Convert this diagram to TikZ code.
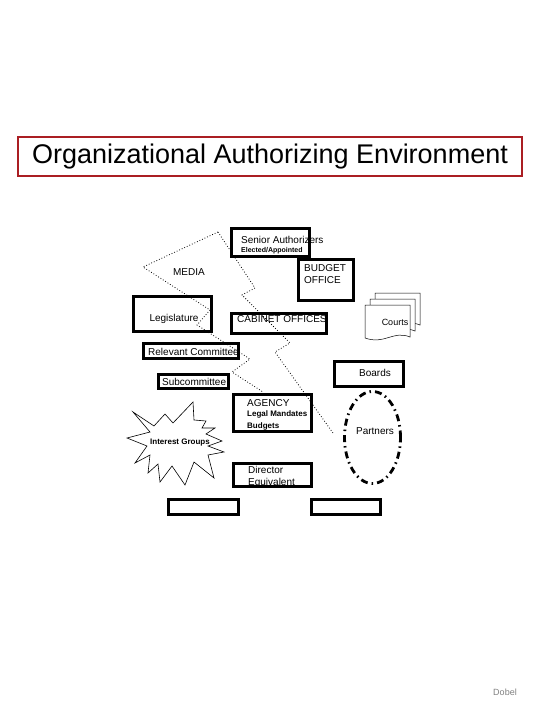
\documentclass[tikz,border=0pt]{standalone}
\usepackage{fontspec}
\setmainfont{Liberation Sans}
\usetikzlibrary{shapes.geometric}
\definecolor{framered}{RGB}{170,30,35}
\tikzstyle{box}=[draw, line width=2.8pt, inner sep=0pt]
\tikzstyle{txt}=[inner sep=0pt, font=\fontsize{10}{12}\selectfont]
\tikzstyle{note}=[inner sep=0pt, font=\fontsize{8}{10}\selectfont\bfseries]
\tikzstyle{tinynote}=[inner sep=0pt, font=\fontsize{7}{8}\selectfont\bfseries]
\tikzstyle{zig}=[line width=0.8pt, dash pattern=on 0.8pt off 2pt]
\tikzstyle{doc}=[draw, fill=white, line width=0.5pt]
\tikzstyle{burst}=[draw, line width=0.6pt, line join=miter]

\begin{document}
\begin{tikzpicture}[x=1pt, y=-1pt]
\useasboundingbox (0,0) rectangle (540,720);

\node[draw=framered, line width=2pt, minimum width=504pt, minimum height=39pt,
  font=\fontsize{27}{30}\selectfont] (title) at (270,156.5) {Organizational Authorizing Environment};

\node[box, minimum width=78pt, minimum height=28pt] (senior) at (270.5,242.5) {};
\node[txt, anchor=west] (seniortxt) at (241,240) {Senior Authorizers};
\node[tinynote, anchor=west] (elected) at (241,250.5) {Elected/Appointed};

\node[box, minimum width=55pt, minimum height=41pt] (budget) at (326,280) {};
\node[txt, anchor=west, align=left] (budgettxt) at (304,274) {BUDGET\\OFFICE};

\node[txt] (media) at (189,272) {MEDIA};

\node[box, minimum width=78pt, minimum height=35pt] (legis) at (172.5,314) {};
\node[txt] (legistxt) at (174,319) {Legislature};

\node[box, minimum width=95pt, minimum height=20pt] (cabinet) at (279,323.5) {};
\node[txt, anchor=west] (cabinettxt) at (237,319) {CABINET OFFICES};

\foreach \s in {10,5,0}
  \draw[doc, shift={(\s,-1.2*\s)}] (365,305) -- (410,305) -- (410,337)
    .. controls (393,330) and (385,345) .. (365,338) -- cycle;
\node[txt, font=\fontsize{9}{11}\selectfont] (courts) at (395,322) {Courts};

\node[box, minimum width=95pt, minimum height=15pt] (relcom) at (191,351) {};
\node[txt, anchor=west] (relcomtxt) at (148,352) {Relevant Committee};

\node[box, minimum width=70pt, minimum height=14pt] (subcom) at (193.5,381.5) {};
\node[txt, anchor=west] (subcomtxt) at (162,382) {Subcommittee};

\node[box, minimum width=69pt, minimum height=25pt] (boards) at (369,374) {};
\node[txt] (boardstxt) at (375,373) {Boards};

\node[box, minimum width=78pt, minimum height=37pt] (agency) at (272.5,413) {};
\node[txt, anchor=west] (agencytxt) at (247,403) {AGENCY};
\node[note, anchor=west] (mandates) at (247,414.5) {Legal Mandates};
\node[note, anchor=west] (budgets) at (247,426) {Budgets};

\node[ellipse, draw, line width=2.8pt, dash pattern=on 7pt off 4pt on 1.5pt off 4pt,
  minimum width=56pt, minimum height=92pt] (partners) at (372.5,437.5) {};
\node[txt] (partnerstxt) at (375,431) {Partners};

\draw[burst] (133,412) -- (154,426) -- (165,414) -- (173,423) -- (193,402) -- (194,420)
  -- (206,421) -- (202,428) -- (215,428) -- (206,434) -- (222,441) -- (208,446)
  -- (224,452) -- (208,455) -- (214,478) -- (194,462) -- (185,485) -- (172,466)
  -- (160,482) -- (158,464) -- (148,473) -- (150,455) -- (135,463) -- (147,446)
  -- (127,438) -- (150,432) -- cycle;
\node[note] (interest) at (180,443) {Interest Groups};

\node[box, minimum width=78pt, minimum height=23pt] (director) at (272.5,475) {};
\node[txt, anchor=west, align=left] (directortxt) at (248,477) {Director\\Equivalent};

\node[box, minimum width=70pt, minimum height=15pt] (blankl) at (203.5,507) {};
\node[box, minimum width=69pt, minimum height=15pt] (blankr) at (346,507) {};

\coordinate (apex) at (218,232);
\draw[zig] (apex) -- (143,267) -- (210,310) -- (197,325) -- (250,359) -- (232,372) -- (263,392);
\draw[zig] (apex) -- (255,288) -- (242,295) -- (290,343) -- (275,352) -- (333,433);

\node[txt, text=gray, font=\fontsize{9}{11}\selectfont] (dobel) at (505,692) {Dobel};
\end{tikzpicture}
\end{document}
